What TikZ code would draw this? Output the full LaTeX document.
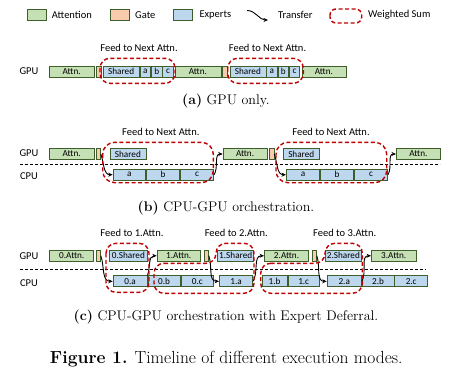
\documentclass[tikz,border=0pt]{standalone}
\usepackage{fontspec}
\newfontfamily\calib{Carlito}
\usepackage{tikz}
\usepackage{xcolor}
\usetikzlibrary{arrows.meta,positioning}
\definecolor{AttnFill}{HTML}{C5E0B4}
\definecolor{GateFill}{HTML}{F8CBAD}
\definecolor{ExpFill}{HTML}{BDD7EE}
\definecolor{Edge}{HTML}{3F5F2A}
\definecolor{WRed}{HTML}{C00000}

\begin{document}
\begin{tikzpicture}[x=1pt,y=-1pt,
  blk/.style={draw=Edge,line width=0.8pt,minimum height=11pt,inner sep=0pt,anchor=west,font=\calib\fontsize{9.2}{10}\selectfont},
  attn/.style={blk,fill=AttnFill},
  gate/.style={blk,fill=GateFill},
  expt/.style={blk,fill=ExpFill},
  lbl/.style={font=\calib\fontsize{10.5}{12}\selectfont,inner sep=0pt},
  wsum/.style={draw=WRed,line width=1.4pt,dash pattern=on 4pt off 2.5pt,rounded corners=10pt},
  xfer/.style={draw=black,line width=0.9pt,-{Stealth[length=4.5pt,width=4pt]}},
  split/.style={draw=black,line width=0.9pt,dash pattern=on 3pt off 2pt},
  captext/.style={font=\fontsize{14}{16}\selectfont,inner sep=0pt}
]
\useasboundingbox (0,0) rectangle (463,375);
% legend
\node[attn,minimum width=19pt,minimum height=10.5pt] (legA) at (26.7,15) {};
\node[lbl,anchor=west] (legAt) at (51.7,15) {Attention};
\node[gate,minimum width=19pt,minimum height=10.5pt] (legG) at (110,15) {};
\node[lbl,anchor=west] (legGt) at (135,15) {Gate};
\node[expt,minimum width=19pt,minimum height=10.5pt] (legE) at (173,15) {};
\node[lbl,anchor=west] (legEt) at (199.3,15) {Experts};
\coordinate (legT1) at (247,10.5);
\coordinate (legT2) at (268,20);
\draw[xfer] (legT1) to[out=0,in=180] (legT2);
\node[lbl,anchor=west] (legTt) at (278,15) {Transfer};
\draw[wsum,rounded corners=6pt] (330,9) rectangle (361.7,23);
\node[lbl,anchor=west] (legWt) at (368,15) {Weighted Sum};

% (a) GPU only
\node[lbl] (gpuA) at (29,71.5) {GPU};
\node[attn,minimum width=44.5pt] (aA1) at (49,71.5) {Attn.};
\node[gate,minimum width=5pt] (aG1) at (95.5,71.5) {};
\node[expt,minimum width=36.5pt] (aS1) at (102.5,71.5) {Shared};
\node[expt,minimum width=10.5pt] (aE1a) at (aS1.east) {a};
\node[expt,minimum width=10.5pt] (aE1b) at (aE1a.east) {b};
\node[expt,minimum width=10.5pt] (aE1c) at (aE1b.east) {c};
\node[attn,minimum width=46pt] (aA2) at (174.5,71.5) {Attn.};
\node[gate,minimum width=5pt] (aG2) at (222,71.5) {};
\node[expt,minimum width=36pt] (aS2) at (229.5,71.5) {Shared};
\node[expt,minimum width=10.5pt] (aE2a) at (aS2.east) {a};
\node[expt,minimum width=10.5pt] (aE2b) at (aE2a.east) {b};
\node[expt,minimum width=10.5pt] (aE2c) at (aE2b.east) {c};
\node[attn,minimum width=44pt] (aA3) at (301.5,71.5) {Attn.};
\draw[wsum] (100,58.3) rectangle (175,83.3);
\draw[wsum] (227.7,58.3) rectangle (303.3,83.3);
\node[lbl] (aF1) at (139,47.7) {Feed to Next Attn.};
\node[lbl] (aF2) at (267.5,47.7) {Feed to Next Attn.};
\node[captext] (capA) at (226,101) {\textbf{(a)} GPU only.};

% (b) CPU-GPU orchestration
\node[lbl] (gpuB) at (29,153.5) {GPU};
\node[lbl] (cpuB) at (29,176) {CPU};
\draw[split] (20,164.3) -- (440,164.3);
\node[attn,minimum width=44.5pt] (bA1) at (49,154) {Attn.};
\node[gate,minimum width=4.5pt] (bG1) at (95.5,154) {};
\node[expt,minimum width=36pt] (bS1) at (109.5,154) {Shared};
\node[expt,minimum width=32.5pt] (bE1a) at (112.7,174.7) {a};
\node[expt,minimum width=33.3pt] (bE1b) at (bE1a.east) {b};
\node[expt,minimum width=33.3pt] (bE1c) at (bE1b.east) {c};
\node[attn,minimum width=44pt] (bA2) at (222.7,154) {Attn.};
\node[gate,minimum width=4.5pt] (bG2) at (269,154) {};
\node[expt,minimum width=36.3pt] (bS2) at (282.7,154) {Shared};
\node[expt,minimum width=33.3pt] (bE2a) at (286,174.7) {a};
\node[expt,minimum width=33.3pt] (bE2b) at (bE2a.east) {b};
\node[expt,minimum width=33pt] (bE2c) at (bE2b.east) {c};
\node[attn,minimum width=44pt] (bA3) at (396,154) {Attn.};
\draw[xfer] (bG1.east) to[out=-70,in=180] (bE1a.west);
\draw[xfer] (bE1c.east) to[out=60,in=180] (bA2.west);
\draw[xfer] (bG2.east) to[out=-70,in=180] (bE2a.west);
\draw[xfer] (bE2c.east) to[out=60,in=180] (bA3.west);
\draw[wsum,rounded corners=12pt] (102.7,142.3) rectangle (213.3,182.7);
\draw[wsum,rounded corners=12pt] (276,142.3) rectangle (386.7,182.7);
\node[lbl] (bF1) at (160.8,131.7) {Feed to Next Attn.};
\node[lbl] (bF2) at (331,131.7) {Feed to Next Attn.};
\node[captext] (capB) at (226,208.3) {\textbf{(b)} CPU-GPU orchestration.};

% (c) with expert deferral
\node[lbl] (gpuC) at (29,255.7) {GPU};
\node[lbl] (cpuC) at (29,283.3) {CPU};
\draw[split] (20,269) -- (425.7,269);
\node[attn,minimum width=44pt] (cA0) at (49.3,255.8) {0.Attn.};
\node[gate,minimum width=4.5pt] (cG0) at (95.5,255.8) {};
\node[expt,minimum width=37.4pt] (cS0) at (109.3,255.8) {0.Shared};
\node[attn,minimum width=43.3pt] (cA1) at (156.7,255.8) {1.Attn.};
\node[gate,minimum width=4.5pt] (cG1) at (203.5,255.8) {};
\node[expt,minimum width=36pt] (cS1) at (217.3,255.8) {1.Shared};
\node[attn,minimum width=44.3pt] (cA2) at (264,255.8) {2.Attn.};
\node[gate,minimum width=4.5pt] (cG2) at (311.5,255.8) {};
\node[expt,minimum width=36pt] (cS2) at (325,255.8) {2.Shared};
\node[attn,minimum width=44.7pt] (cA3) at (371,255.8) {3.Attn.};
\node[expt,minimum width=34pt] (cE0a) at (112.7,281.3) {0.a};
\node[expt,minimum width=32.3pt] (cE0b) at (cE0a.east) {0.b};
\node[expt,minimum width=32.7pt] (cE0c) at (cE0b.east) {0.c};
\node[expt,minimum width=33.3pt] (cE1a) at (219,281.3) {1.a};
\node[expt,minimum width=25pt] (cE1b) at (261.7,281.3) {1.b};
\node[expt,minimum width=31.6pt] (cE1c) at (cE1b.east) {1.c};
\node[expt,minimum width=34.3pt] (cE2a) at (326.7,281.3) {2.a};
\node[expt,minimum width=31.7pt] (cE2b) at (cE2a.east) {2.b};
\node[expt,minimum width=33pt] (cE2c) at (cE2b.east) {2.c};
\draw[xfer] (cG0.east) to[out=-70,in=180] (cE0a.west);
\draw[xfer] (cE0a.north east) to[out=70,in=180] (cA1.west);
\draw[xfer] (cG1.east) to[out=-70,in=180] (cE1a.west);
\draw[xfer] (cE1a.east) to[out=60,in=180] (cA2.west);
\draw[xfer] (cG2.east) to[out=-70,in=180] (cE2a.west);
\draw[xfer] (cE2a.east) to[out=60,in=180] (cA3.west);
\draw[wsum] (106,243.3) rectangle (149,292.3);
\draw[wsum] (154,263.3) -- (216,263.3) -- (216,243.3) -- (254,243.3) -- (254,293.3) -- (154,293.3) -- cycle;
\draw[wsum] (260.7,263.3) -- (325,263.3) -- (325,243.3) -- (362.3,243.3) -- (362.3,293.3) -- (260.7,293.3) -- cycle;
\node[lbl] (cF1) at (132,232.7) {Feed to 1.Attn.};
\node[lbl] (cF2) at (236.3,232.7) {Feed to 2.Attn.};
\node[lbl] (cF3) at (344.7,232.7) {Feed to 3.Attn.};
\node[captext] (capC) at (226,316.7) {\textbf{(c)} CPU-GPU orchestration with Expert Deferral.};

\node[captext,font=\fontsize{17.5}{19}\selectfont] (fig) at (226.3,359.3) {\textbf{Figure 1.} Timeline of different execution modes.};
\end{tikzpicture}
\end{document}
